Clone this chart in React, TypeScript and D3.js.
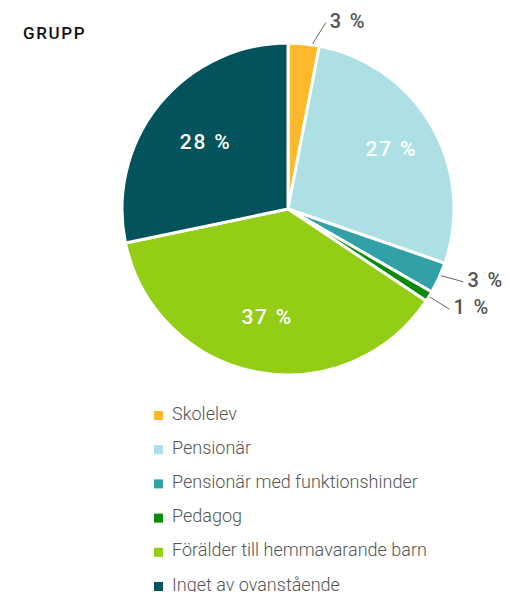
import React from "react";
import * as d3 from "d3";

const categories = [
  "Skolelev",
  "Pensionär",
  "Pensionär med funktionshinder",
  "Pedagog",
  "Förälder till hemmavarande barn",
  "Inget av ovanstående",
];
const values = [3, 27, 3, 1, 37, 28];
const colors = ["#FDB92B", "#ACE0E4", "#31A0A7", "#0A8A0A", "#93CD15", "#02535B"];
const outside = [true, false, true, true, false, false];
const labelNudgeDeg = [6, 0, -2, 0, 0, 0];
const insideRadiusFactor = [0, 0.72, 0, 0, 0.66, 0.64];

const W = 509;
const H = 592;
const cx = 288;
const cy = 209;
const R = 166;

export default function App() {
  const pie = d3.pie<number>().sort(null).value((d) => d);
  const arcs = pie(values);
  const arc = d3.arc<d3.PieArcDatum<number>>().innerRadius(0).outerRadius(R);
  const font = "Roboto, 'DejaVu Sans', sans-serif";

  const polar = (angle: number, r: number): [number, number] => [
    cx + r * Math.sin(angle),
    cy - r * Math.cos(angle),
  ];

  return (
    <svg
      width={W}
      height={H}
      style={{ position: "absolute", left: 0, top: 0, background: "#fff" }}
    >
      <text x={23} y={39} fontFamily={font} fontSize={17} fontWeight={500} letterSpacing={1.6} fill="#111">
        GRUPP
      </text>
      <g transform={`translate(${cx},${cy})`}>
        {arcs.map((a, i) => (
          <path key={i} d={arc(a) || ""} fill={colors[i]} stroke="#fff" strokeWidth={3} strokeLinejoin="round" />
        ))}
      </g>
      {arcs.map((a, i) => {
        const mid = (a.startAngle + a.endAngle) / 2;
        const label = `${values[i]} %`;
        if (outside[i]) {
          const ang = mid + (labelNudgeDeg[i] * Math.PI) / 180;
          const [x1, y1] = polar(mid + (labelNudgeDeg[i] * Math.PI) / 360, R + 1);
          const [x2, y2] = polar(ang, R + 24);
          return (
            <g key={i}>
              <line x1={x1} y1={y1} x2={x2} y2={y2} stroke="#666" strokeWidth={1} />
              <text x={x2 + 4} y={y2 + 5} fontFamily={font} fontSize={20} fontWeight={500} letterSpacing={1.8} fill="#555">
                {label}
              </text>
            </g>
          );
        }
        const [lx, ly] = polar(mid, R * insideRadiusFactor[i]);
        return (
          <text
            key={i}
            x={lx}
            y={ly + 7}
            textAnchor="middle"
            fontFamily={font}
            fontSize={21}
            fontWeight={500}
            letterSpacing={1.8}
            fill="#fff"
          >
            {label}
          </text>
        );
      })}
      {categories.map((c, i) => {
        const base = 419.5 + 34.2 * i;
        return (
          <g key={c}>
            <rect x={154} y={base - 8.5} width={9} height={9} fill={colors[i]} />
            <text x={172} y={base} fontFamily={font} fontSize={18} fontWeight={300} fill="#555">
              {c}
            </text>
          </g>
        );
      })}
    </svg>
  );
}
